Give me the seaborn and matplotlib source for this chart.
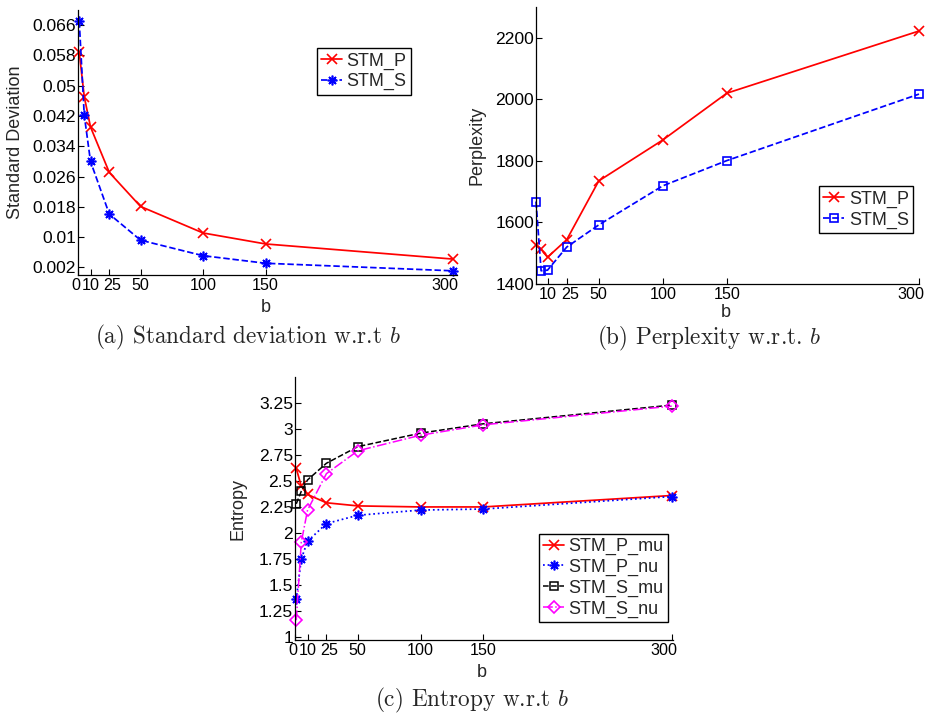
import matplotlib
matplotlib.use("Agg")
import matplotlib.pyplot as plt
import matplotlib.transforms as mtransforms
import seaborn as sns

#%% Datos
b = [1, 5, 10, 25, 50, 100, 150, 300]

std_p = [0.0588, 0.0471, 0.0391, 0.0271, 0.0181, 0.0111, 0.0082, 0.0042]
std_s = [0.0670, 0.0422, 0.0300, 0.0161, 0.0092, 0.0051, 0.0031, 0.0011]

perp_p = [1526, 1513, 1487, 1544, 1735, 1868, 2020, 2222]
perp_s = [1668, 1443, 1445, 1520, 1592, 1719, 1801, 2017]

ent_p_mu = [2.62, 2.45, 2.37, 2.29, 2.26, 2.25, 2.25, 2.36]
ent_p_nu = [1.36, 1.75, 1.92, 2.09, 2.17, 2.22, 2.23, 2.35]
ent_s_mu = [2.28, 2.40, 2.51, 2.67, 2.83, 2.96, 3.05, 3.23]
ent_s_nu = [1.16, 1.91, 2.22, 2.57, 2.79, 2.94, 3.04, 3.22]

xticks_a = [0, 10, 25, 50, 100, 150, 300]
xticks_b = [10, 25, 50, 100, 150, 300]
yticks_a = [0.002, 0.01, 0.018, 0.026, 0.034, 0.042, 0.05, 0.058, 0.066]
ylabels_a = ['0.002', '0.01', '0.018', '0.026', '0.034', '0.042', '0.05', '0.058', '0.066']
yticks_b = [1400, 1600, 1800, 2000, 2200]
yticks_c = [1, 1.25, 1.5, 1.75, 2, 2.25, 2.5, 2.75, 3, 3.25]
ylabels_c = ['1', '1.25', '1.5', '1.75', '2', '2.25', '2.5', '2.75', '3', '3.25']

#%% Estilo
sns.set_style("ticks")
plt.rcParams['font.family'] = ['Liberation Sans', 'DejaVu Sans']
plt.rcParams['mathtext.fontset'] = 'cm'
plt.rcParams['axes.linewidth'] = 0.9

W, H = 929, 716
fig = plt.figure(figsize=(W / 100, H / 100), dpi=100)

# pequenos desplazamientos (px) de algunas etiquetas del eje x, como en el original
label_shift = {0: -2, 25: 3, 300: -8}


def add_ax(left, right, top, bottom):
    return fig.add_axes([left / W, 1 - bottom / H, (right - left) / W, (bottom - top) / H])


def style_ax(ax, ylabel, ylab_x, xlab_y):
    sns.despine(ax=ax)
    ax.tick_params(direction='in', length=4, width=0.8, colors='black')
    ax.tick_params(axis='y', pad=1.5, labelsize=12.6)
    ax.tick_params(axis='x', pad=2.5, labelsize=11.6)
    ax.set_xlabel('b', fontsize=13)
    ax.set_ylabel(ylabel, fontsize=13)
    ax.xaxis.set_label_coords(0.495, xlab_y)
    ax.xaxis.label.set_va('center')
    ax.yaxis.set_label_coords(ylab_x, 0.5)
    ax.yaxis.label.set_va('center')
    for s in ax.spines.values():
        s.set_color('black')
    for ln in ax.get_lines():
        ln.set_clip_on(False)
    for loc, tick in zip(ax.get_xticks(), ax.xaxis.get_major_ticks()):
        dx = label_shift.get(int(loc), 0)
        if dx:
            off = mtransforms.ScaledTranslation(dx / 100, 0, fig.dpi_scale_trans)
            tick.label1.set_transform(tick.label1.get_transform() + off)


def legend(ax, loc, anchor):
    leg = ax.legend(loc=loc, bbox_to_anchor=anchor, borderaxespad=0, fontsize=13,
                    frameon=True, fancybox=False, edgecolor='black', framealpha=1,
                    handlelength=1.15, handletextpad=0.25, labelspacing=0.2,
                    borderpad=0.25)
    leg.get_frame().set_linewidth(1.0)


ast = (8, 2, 0)

#%% (a) Desviacion estandar
ax1 = add_ax(78, 457, 10, 275)
sns.lineplot(x=b, y=std_p, ax=ax1, color='red', marker='x', ms=6.5, mew=1.2, mec='red',
             lw=1.25, label='STM_P')
sns.lineplot(x=b, y=std_s, ax=ax1, color='blue', marker=ast, ms=7, mew=1.2, mec='blue',
             lw=1.25, linestyle='--', label='STM_S')
ax1.set_xlim(0, 303)
ax1.set_ylim(0, 0.07)
ax1.set_xticks(xticks_a)
ax1.set_yticks(yticks_a)
ax1.set_yticklabels(ylabels_a)
style_ax(ax1, 'Standard Deviation', -0.164, -0.121)
legend(ax1, 'upper right', (0.879, 0.857))

#%% (b) Perplejidad
ax2 = add_ax(536, 919, 7, 284)
sns.lineplot(x=b, y=perp_p, ax=ax2, color='red', marker='x', ms=6.5, mew=1.2, mec='red',
             lw=1.25, label='STM_P')
sns.lineplot(x=b, y=perp_s, ax=ax2, color='blue', marker='s', ms=5.5, mew=1.2, mec='blue',
             mfc='none', lw=1.25, linestyle='--', label='STM_S')
ax2.set_xlim(1, 300)
ax2.set_ylim(1400, 2300)
ax2.set_xticks(xticks_b)
ax2.set_yticks(yticks_b)
style_ax(ax2, 'Perplexity', -0.153, -0.104)
legend(ax2, 'lower right', (0.985, 0.184))

#%% (c) Entropia
ax3 = add_ax(295, 673, 377, 640)
sns.lineplot(x=b, y=ent_p_mu, ax=ax3, color='red', marker='x', ms=6.5, mew=1.2, mec='red',
             lw=1.25, label='STM_P_mu')
sns.lineplot(x=b, y=ent_p_nu, ax=ax3, color='blue', marker=ast, ms=7, mew=1.2, mec='blue',
             lw=1.25, linestyle=':', label='STM_P_nu')
sns.lineplot(x=b, y=ent_s_mu, ax=ax3, color='black', marker='s', ms=5.5, mew=1.1, mec='black',
             mfc='none', lw=1.1, linestyle='--', label='STM_S_mu')
sns.lineplot(x=b, y=ent_s_nu, ax=ax3, color='magenta', marker='D', ms=6.5, mew=1.2,
             mec='magenta', mfc='none', lw=1.1, linestyle='-.', label='STM_S_nu')
ax3.set_xlim(0, 301)
ax3.set_ylim(0.97, 3.5)
ax3.set_xticks(xticks_a)
ax3.set_yticks(yticks_c)
ax3.set_yticklabels(ylabels_c)
style_ax(ax3, 'Entropy', -0.150, -0.122)
legend(ax3, 'lower right', (0.987, 0.068))

#%% Titulos inferiores
cap = dict(fontsize=16.7, family=['cmr10', 'DejaVu Serif'], ha='center', va='center')
fig.text(247.5 / W, 1 - 337 / H, r'(a) Standard deviation w.r.t $b$', **cap)
fig.text(709 / W, 1 - 338 / H, r'(b) Perplexity w.r.t. $b$', **cap)
fig.text(472.5 / W, 1 - 700 / H, r'(c) Entropy w.r.t $b$', **cap)

fig.savefig('out.png', dpi=100)
